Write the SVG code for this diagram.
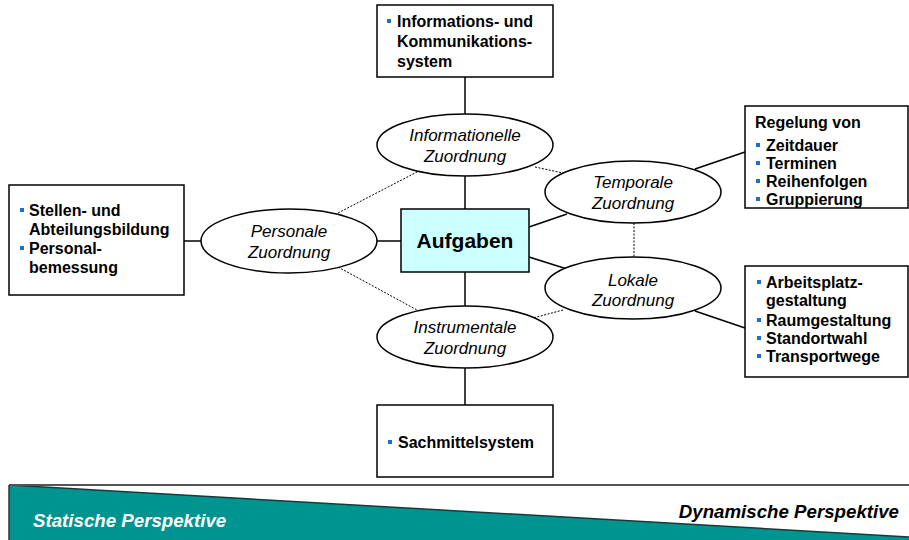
<svg xmlns="http://www.w3.org/2000/svg" width="909" height="540" viewBox="0 0 909 540">
<style>
.box{fill:#fff;stroke:#000;stroke-width:1.5}
.ell{fill:#fff;stroke:#000;stroke-width:1.5}
.ln{stroke:#000;stroke-width:1.5;fill:none}
.dt{stroke:#000;stroke-width:1;stroke-dasharray:2 1.5;fill:none}
.bt{font-family:"Liberation Sans",Arial,sans-serif;font-weight:bold;font-size:16px;fill:#000}
.it{font-family:"Liberation Sans",Arial,sans-serif;font-style:italic;font-size:17px;fill:#000;text-anchor:middle}
.bu{fill:#1F6FC8}
.ft{font-family:"Liberation Sans",Arial,sans-serif;font-weight:bold;font-style:italic;font-size:18.7px}
</style>
<rect width="909" height="540" fill="#fff"/>
<g id="connectors">
<line class="ln" x1="465" y1="77" x2="465" y2="114"/>
<line class="ln" x1="465" y1="176" x2="465" y2="209"/>
<line class="ln" x1="465" y1="272" x2="465" y2="306"/>
<line class="ln" x1="465" y1="368" x2="465" y2="405"/>
<line class="ln" x1="184" y1="241" x2="201" y2="241"/>
<line class="ln" x1="377" y1="241" x2="401" y2="241"/>
<line class="ln" x1="529" y1="227" x2="567" y2="214"/>
<line class="ln" x1="529" y1="257" x2="567" y2="269"/>
<line class="ln" x1="695" y1="169" x2="745" y2="152"/>
<line class="ln" x1="695" y1="311" x2="745" y2="328"/>
<line class="dt" x1="338" y1="213" x2="417" y2="172"/>
<line class="dt" x1="338" y1="267" x2="417" y2="310"/>
<line class="dt" x1="535" y1="167" x2="563" y2="173"/>
<line class="dt" x1="634" y1="223" x2="634" y2="257"/>
<line class="dt" x1="563" y1="310" x2="533" y2="318"/>
</g>
<g id="info-system">
<rect class="box" x="377" y="5" width="176" height="72"/>
<rect class="bu" x="387" y="19" width="4" height="4"/>
<text class="bt" x="397" y="27">Informations- und</text>
<text class="bt" x="397" y="47">Kommunikations-</text>
<text class="bt" x="397" y="67">system</text>
</g>
<g id="informationelle">
<ellipse class="ell" cx="465" cy="145" rx="88" ry="31"/>
<text class="it" x="465" y="141">Informationelle</text>
<text class="it" x="465" y="162">Zuordnung</text>
</g>
<g id="personal-box">
<rect class="box" x="9" y="185" width="175" height="110"/>
<rect class="bu" x="20" y="208" width="4" height="4"/>
<text class="bt" x="29" y="216">Stellen- und</text>
<text class="bt" x="29" y="235">Abteilungsbildung</text>
<rect class="bu" x="20" y="246" width="4" height="4"/>
<text class="bt" x="29" y="254">Personal-</text>
<text class="bt" x="29" y="273">bemessung</text>
</g>
<g id="personale">
<ellipse class="ell" cx="289" cy="241" rx="88" ry="32"/>
<text class="it" x="289" y="237">Personale</text>
<text class="it" x="289" y="258">Zuordnung</text>
</g>
<g id="aufgaben">
<rect x="401" y="209" width="128" height="63" fill="#CCFFFF" stroke="#000" stroke-width="1.5"/>
<text x="465" y="248" text-anchor="middle" font-family="'Liberation Sans',Arial,sans-serif" font-weight="bold" font-size="21" fill="#000">Aufgaben</text>
</g>
<g id="temporale">
<ellipse class="ell" cx="633" cy="192" rx="88" ry="31"/>
<text class="it" x="633" y="188">Temporale</text>
<text class="it" x="633" y="209">Zuordnung</text>
</g>
<g id="regelung">
<rect class="box" x="745" y="106" width="163" height="102"/>
<text class="bt" x="755" y="128">Regelung von</text>
<rect class="bu" x="756" y="143" width="4" height="4"/>
<text class="bt" x="766" y="151">Zeitdauer</text>
<rect class="bu" x="756" y="161" width="4" height="4"/>
<text class="bt" x="766" y="169">Terminen</text>
<rect class="bu" x="756" y="179" width="4" height="4"/>
<text class="bt" x="766" y="187">Reihenfolgen</text>
<rect class="bu" x="756" y="197" width="4" height="4"/>
<text class="bt" x="766" y="205">Gruppierung</text>
</g>
<g id="lokale">
<ellipse class="ell" cx="633" cy="288" rx="88" ry="31"/>
<text class="it" x="633" y="286">Lokale</text>
<text class="it" x="633" y="306">Zuordnung</text>
</g>
<g id="arbeitsplatz">
<rect class="box" x="745" y="266" width="163" height="111"/>
<rect class="bu" x="757" y="280" width="4" height="4"/>
<text class="bt" x="766" y="288">Arbeitsplatz-</text>
<text class="bt" x="766" y="306">gestaltung</text>
<rect class="bu" x="757" y="318" width="4" height="4"/>
<text class="bt" x="766" y="326">Raumgestaltung</text>
<rect class="bu" x="757" y="336" width="4" height="4"/>
<text class="bt" x="766" y="344">Standortwahl</text>
<rect class="bu" x="757" y="354" width="4" height="4"/>
<text class="bt" x="766" y="362">Transportwege</text>
</g>
<g id="instrumentale">
<ellipse class="ell" cx="465" cy="337" rx="88" ry="31"/>
<text class="it" x="465" y="333">Instrumentale</text>
<text class="it" x="465" y="354">Zuordnung</text>
</g>
<g id="sachmittel">
<rect class="box" x="377" y="405" width="176" height="72"/>
<rect class="bu" x="388" y="440" width="4" height="4"/>
<text class="bt" x="398" y="448">Sachmittelsystem</text>
</g>
<g id="footer">
<polygon points="9,485 909,537 909,540 9,540" fill="#009490"/>
<line x1="9" y1="485" x2="909" y2="537" stroke="#1a3a3a" stroke-width="1.5"/>
<line x1="9" y1="485" x2="909" y2="485" stroke="#555" stroke-width="2"/>
<line x1="9" y1="485" x2="9" y2="540" stroke="#333" stroke-width="1.5"/>
<text class="ft" x="33" y="527" fill="#fff">Statische Perspektive</text>
<text class="ft" x="899" y="518" text-anchor="end" fill="#000">Dynamische Perspektive</text>
</g>
</svg>
